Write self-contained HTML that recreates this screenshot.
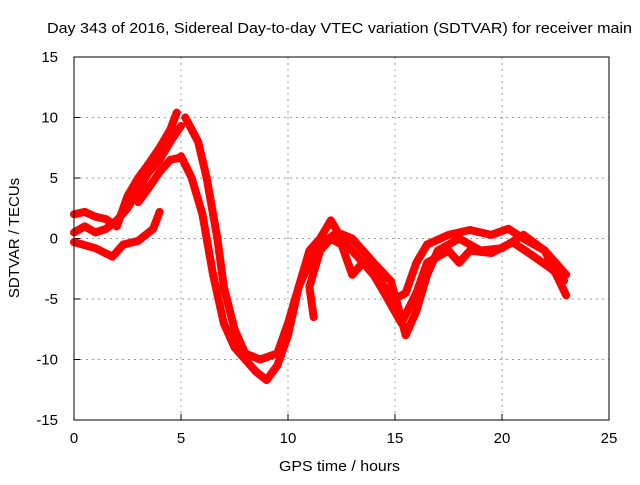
<!DOCTYPE html>
<html><head><meta charset="utf-8"><style>
body{margin:0;background:#fff}
svg text{font-family:"Liberation Sans",sans-serif;font-size:15px;fill:#000}
</style></head><body>
<svg id="c" width="640" height="480">
<text x="47" y="33" textLength="585" lengthAdjust="spacingAndGlyphs">Day 343 of 2016, Sidereal Day-to-day VTEC variation (SDTVAR) for receiver main</text>
<text x="279" y="471" textLength="121" lengthAdjust="spacingAndGlyphs">GPS time / hours</text>
<text transform="translate(19,238) rotate(-90)" text-anchor="middle">SDTVAR / TECUs</text>
<g id="grid"></g><g id="ticks"></g><g id="series"></g>
<rect x="74" y="57" width="535" height="363" fill="none" stroke="#000" stroke-width="1"/>
</svg>
<script>
const xTicks=[0,5,10,15,20,25];
const yTicks=[-15,-10,-5,0,5,10,15];
const trackA=[[0,2],[0.5,2.2],[1,1.8],[1.5,1.6],[2,1],[2.5,3.5],[3,5],[3.5,6.2],[4,7.5],[4.5,9],[4.8,10.4]];
const trackB=[[0,0.5],[0.5,1],[1,0.5],[1.5,0.8],[2,1.5],[2.5,2.5],[3,4],[3.5,5.5],[4,6.5],[4.5,8],[5,9.3]];
const trackC=[[0,-0.3],[1,-0.8],[1.8,-1.5],[2.3,-0.5],[3,-0.2],[3.7,0.8],[4,2.2]];
const trackC2=[[3,3],[3.5,4.2],[4,5.5],[4.5,6.5],[5,6.7]];
const trackD=[[5.2,10],[5.8,8],[6.2,5],[6.7,0],[7,-4],[7.5,-7.5],[8,-9.5],[8.7,-10],[9.5,-9.5],[10,-7],[10.5,-4],[11,-1],[11.5,0],[12,1.5],[12.5,0],[13,-1],[13.5,-2],[14,-2.5],[14.5,-4],[15,-5],[15.5,-4.5],[16,-2],[16.5,-0.5],[17.5,0.3],[18.5,0.7],[19.5,0.3],[20.3,0.8],[21,0],[22,-1],[23,-3]];
const trackE=[[5,6.8],[5.5,5],[6,2],[6.5,-3],[7,-7],[7.5,-9],[8,-10],[8.5,-11],[9,-11.7],[9.5,-10.5],[10,-8],[10.5,-4],[11,-2],[11.5,-0.5],[12.3,0.5],[13,0],[13.5,-1],[14,-2],[14.8,-3.5],[15.2,-6],[15.5,-8],[16,-6],[16.5,-3],[17,-1],[17.5,-0.5],[18,0],[19,-1],[20,-0.8],[21,0.3],[22,-1],[23,-4.7]];
const trackF=[[11.2,-6.5],[11,-4],[11.5,-1],[12,0],[12.5,-0.5],[13,-3],[13.5,-2],[14,-3],[14.5,-4.5],[15.3,-7],[16,-4.5],[16.5,-2],[17,-1.5],[17.5,-1],[18,-2],[18.5,-1],[19.5,-1.2],[20.5,-0.3],[21.5,-1.5],[22.3,-2.5],[22.9,-3.5]];
const tracks=[trackA,trackB,trackC,trackC2,trackD,trackE,trackF];
const X=v=>74+v*(535/25), Y=v=>238.5-v*(363/30);
const NS="http://www.w3.org/2000/svg";
const grid=document.getElementById('grid'),ticks=document.getElementById('ticks'),ser=document.getElementById('series');
function mk(t,a,p){const e=document.createElementNS(NS,t);for(const k in a)e.setAttribute(k,a[k]);p.appendChild(e);return e;}
xTicks.forEach(t=>{
 if(t>0&&t<25){const g=mk('line',{x1:X(t),x2:X(t),y1:57,y2:420,stroke:'#999','stroke-dasharray':'2,4'},grid);
 
 }
 const l=mk('text',{x:X(t),y:443,'text-anchor':'middle'},ticks);l.textContent=t;
 
 
 mk('line',{x1:X(t),x2:X(t),y1:420,y2:414,stroke:'#000'},ticks);
});
yTicks.forEach(t=>{
 if(t>-15&&t<15){const g=mk('line',{x1:74,x2:609,y1:Y(t),y2:Y(t),stroke:'#999','stroke-dasharray':'2,4'},grid);
 
 }
 const l=mk('text',{x:58,y:Y(t)+5,'text-anchor':'end'},ticks);l.textContent=t;
 
 
 mk('line',{x1:74,x2:80,y1:Y(t),y2:Y(t),stroke:'#000'},ticks);
});
tracks.forEach(tr=>{
 const p=mk('polyline',{points:tr.map(d=>X(d[0])+','+Y(d[1])).join(' '),fill:'none',stroke:'#f00','stroke-width':8,'stroke-linejoin':'round','stroke-linecap':'round'},ser);
 
 
});
</script>
</body></html>
